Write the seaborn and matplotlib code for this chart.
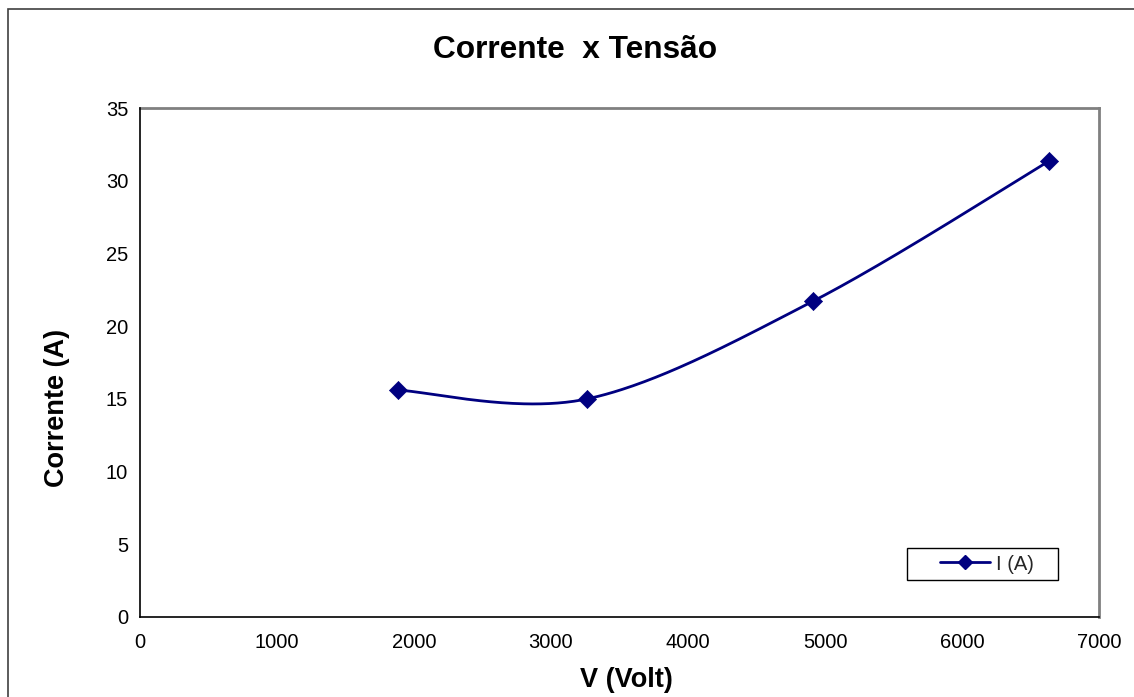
import numpy as np
import pandas as pd
import matplotlib
matplotlib.use("Agg")
import matplotlib.pyplot as plt
from matplotlib.lines import Line2D
from matplotlib.patches import Rectangle
import seaborn as sns

# Measured points: voltage (V) and current (A)
tensao = [1885, 3265, 4910, 6635]
corrente = [15.6, 15.0, 21.7, 31.35]
serie = "I (A)"

x_ticks = [0, 1000, 2000, 3000, 4000, 5000, 6000, 7000]
y_ticks = [0, 5, 10, 15, 20, 25, 30, 35]

sns.set_theme(style="white")
plt.rcParams["font.family"] = ["Liberation Sans", "DejaVu Sans"]

W, H = 1134, 697
fig = plt.figure(figsize=(W / 100, H / 100), dpi=100)
ax = fig.add_axes([140 / W, 1 - 617 / H, (1099 - 140) / W, (617 - 108) / H])

# Smoothed curve (cubic Bezier segments with Catmull-Rom style control points),
# computed in axis-normalised space so the curvature follows the drawn scale
xs = np.array(tensao, float) / x_ticks[-1] * (1099 - 140)
ys = np.array(corrente, float) / y_ticks[-1] * (617 - 108)
pts = np.column_stack([xs, ys])
ext = np.vstack([pts[0], pts, pts[-1]])
curve = []
t = np.linspace(0, 1, 80)[:, None]
for i in range(len(pts) - 1):
    p0 = ext[i + 1]
    p3 = ext[i + 2]
    c1 = p0 + (ext[i + 2] - ext[i]) / 6
    c2 = p3 - (ext[i + 3] - ext[i + 1]) / 6
    seg = ((1 - t) ** 3) * p0 + 3 * ((1 - t) ** 2) * t * c1 + 3 * (1 - t) * t ** 2 * c2 + t ** 3 * p3
    curve.append(seg if i == 0 else seg[1:])
curve = np.vstack(curve)
smooth = pd.DataFrame({
    "V": curve[:, 0] / (1099 - 140) * x_ticks[-1],
    "I": curve[:, 1] / (617 - 108) * y_ticks[-1],
})
pontos = pd.DataFrame({"V": tensao, "I": corrente})

navy = "#000080"
sns.lineplot(data=smooth, x="V", y="I", sort=False, estimator=None,
             color=navy, lw=2.0, ax=ax, legend=False)
sns.scatterplot(data=pontos, x="V", y="I", marker="D", s=85, color=navy,
                edgecolor=navy, linewidth=0.5, ax=ax, legend=False, zorder=3)

ax.set_xlim(x_ticks[0], x_ticks[-1])
ax.set_ylim(y_ticks[0], y_ticks[-1])
ax.set_xticks(x_ticks)
ax.set_yticks(y_ticks)
ax.set_xlabel("")
ax.set_ylabel("")
ax.grid(False)
ax.tick_params(axis="both", direction="inout", length=9, width=1, color="black",
               labelsize=14.5, labelcolor="black", pad=4)
ax.tick_params(axis="x", pad=7)
for side in ("left", "bottom"):
    ax.spines[side].set_color("black")
    ax.spines[side].set_linewidth(1.2)
for side in ("top", "right"):
    ax.spines[side].set_color("#808080")
    ax.spines[side].set_linewidth(2.0)
ax.spines["left"].set_zorder(4)
ax.spines["bottom"].set_zorder(4)

# Titles
fig.text(575 / W, 1 - 50 / H, "Corrente  x Tensão", ha="center", va="center",
         fontsize=22.8, fontweight="bold", color="black")
fig.text(57 / W, 1 - 408 / H, "Corrente (A)", ha="center", va="center",
         rotation=90, fontsize=19.5, fontweight="bold", color="black")
fig.text(626 / W, 1 - 680 / H, "V (Volt)", ha="center", va="center",
         fontsize=19.5, fontweight="bold", color="black")

# Legend: frame drawn as its own box, entry placed inside it
fig.patches.append(Rectangle((907 / W, 1 - 580 / H), (1058 - 907) / W, 32 / H,
                             transform=fig.transFigure, fill=True, facecolor="white",
                             edgecolor="black", lw=1.0, zorder=5))
handle = Line2D([0], [0], color=navy, lw=2.0, marker="D", markersize=7.5,
                markerfacecolor=navy, markeredgecolor=navy)
leg = fig.legend([handle], [serie], loc="center left", frameon=False,
                 bbox_to_anchor=(940 / W, 1 - 564 / H), bbox_transform=fig.transFigure,
                 fontsize=14.5, handlelength=2.5, handletextpad=0.3,
                 borderpad=0, borderaxespad=0)
leg.set_zorder(6)

# Outer chart border
fig.patches.append(Rectangle((8 / W, -0.05), 1.2, 1 - 9 / H + 0.05,
                             transform=fig.transFigure, fill=False,
                             edgecolor="#404040", lw=1.2))

fig.savefig("out.png", dpi=100, facecolor="white")
